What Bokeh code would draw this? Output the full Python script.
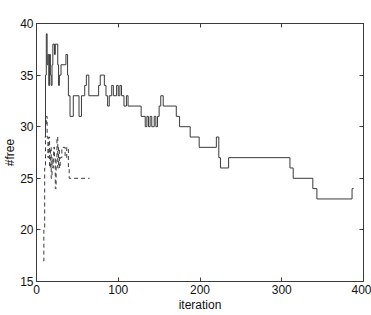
from bokeh.plotting import figure
from bokeh.models import LinearAxis, FixedTicker, Range1d, CustomLabelingPolicy
from bokeh.embed import file_html
from bokeh.resources import INLINE

# Solid run: iteration at which value changes, and value held from there
solid_iter = [10, 11, 12, 13, 14, 15, 16, 17, 18, 19, 20, 22, 23, 26, 27, 28, 30, 36, 38, 39,
              41, 45, 52, 55, 59, 61, 64, 76, 78, 83, 85, 87, 89, 92, 94, 98, 100, 102, 104,
              107, 110, 112, 128, 133, 135, 137, 139, 141, 144, 146, 148, 150, 152, 155, 171,
              175, 188, 199, 220, 223, 225, 235, 310, 314, 338, 343, 386, 388]
solid_val = [29, 35, 39, 36, 37, 34, 37, 35, 34, 36, 38, 37, 38, 36, 34, 35, 36, 37, 35, 33,
             31, 33, 31, 33, 34, 35, 33, 34, 35, 34, 33, 32, 33, 34, 33, 34, 33, 34, 33,
             32, 33, 32, 31, 30, 31, 30, 31, 30, 31, 30, 31, 32, 33, 32, 31,
             30, 29, 28, 29, 27, 26, 27, 26, 25, 24, 23, 24, 24]

# Dashed run
dash_iter = [8, 9, 10, 11, 12, 13, 14, 15, 16, 17, 18, 19, 20, 21, 22, 23, 24, 25, 26, 27,
             28, 29, 31, 35, 37, 39, 40, 65]
dash_val = [17, 20, 26, 30, 31, 29, 27, 29, 26, 28, 25, 27, 26, 28, 27, 24, 27, 29, 26, 28,
            26, 27, 28, 27, 28, 26, 25, 25]

x_ticks = [0, 100, 200, 300, 400]
y_ticks = [15, 20, 25, 30, 35, 40]

FONT = "Liberation Sans"
INK = "#3a3a3a"

p = figure(width=371, height=315, output_backend="svg", toolbar_location=None,
           x_range=Range1d(0, 400), y_range=Range1d(15, 40),
           min_border_left=35, min_border_right=8, min_border_top=23, min_border_bottom=34)
p.background_fill_color = "white"
p.border_fill_color = "white"
p.grid.visible = False
p.outline_line_color = INK
p.outline_line_width = 1

p.step(solid_iter, solid_val, mode="after", line_color=INK, line_width=1)
p.step(dash_iter, dash_val, mode="after", line_color=INK, line_width=1, line_dash="4 3")

for ax in [p.xaxis[0], p.yaxis[0]]:
    ax.major_tick_in = 4
    ax.major_tick_out = 0
    ax.minor_tick_in = 0
    ax.minor_tick_out = 0
    ax.axis_line_color = INK
    ax.major_tick_line_color = INK
    ax.major_label_text_font = FONT
    ax.major_label_text_font_size = "12px"
    ax.major_label_text_color = "#111111"
    ax.axis_label_text_font = FONT
    ax.axis_label_text_font_size = "12px"
    ax.axis_label_text_font_style = "normal"
    ax.axis_label_text_color = "#111111"

p.xaxis[0].ticker = FixedTicker(ticks=x_ticks)
p.yaxis[0].ticker = FixedTicker(ticks=y_ticks)
p.xaxis[0].axis_label = "iteration"
p.yaxis[0].axis_label = "#free"
p.xaxis[0].major_label_standoff = 3
p.xaxis[0].axis_label_standoff = 1
p.yaxis[0].major_label_standoff = 3
p.yaxis[0].axis_label_standoff = 0

hide_all = """
const all = [...indices]
for (const i of all) indices.unset(i)
return indices
"""

right = LinearAxis(ticker=FixedTicker(ticks=y_ticks))
top = LinearAxis(ticker=FixedTicker(ticks=x_ticks))
for ax in [right, top]:
    ax.major_tick_in = 4
    ax.major_tick_out = 0
    ax.minor_tick_in = 0
    ax.minor_tick_out = 0
    ax.axis_line_color = INK
    ax.major_tick_line_color = INK
    ax.major_label_policy = CustomLabelingPolicy(code=hide_all)
    ax.major_label_text_font_size = "0px"
    ax.major_label_standoff = 0
p.add_layout(right, "right")
p.add_layout(top, "above")

open("out.html", "w").write(file_html(p, INLINE))
